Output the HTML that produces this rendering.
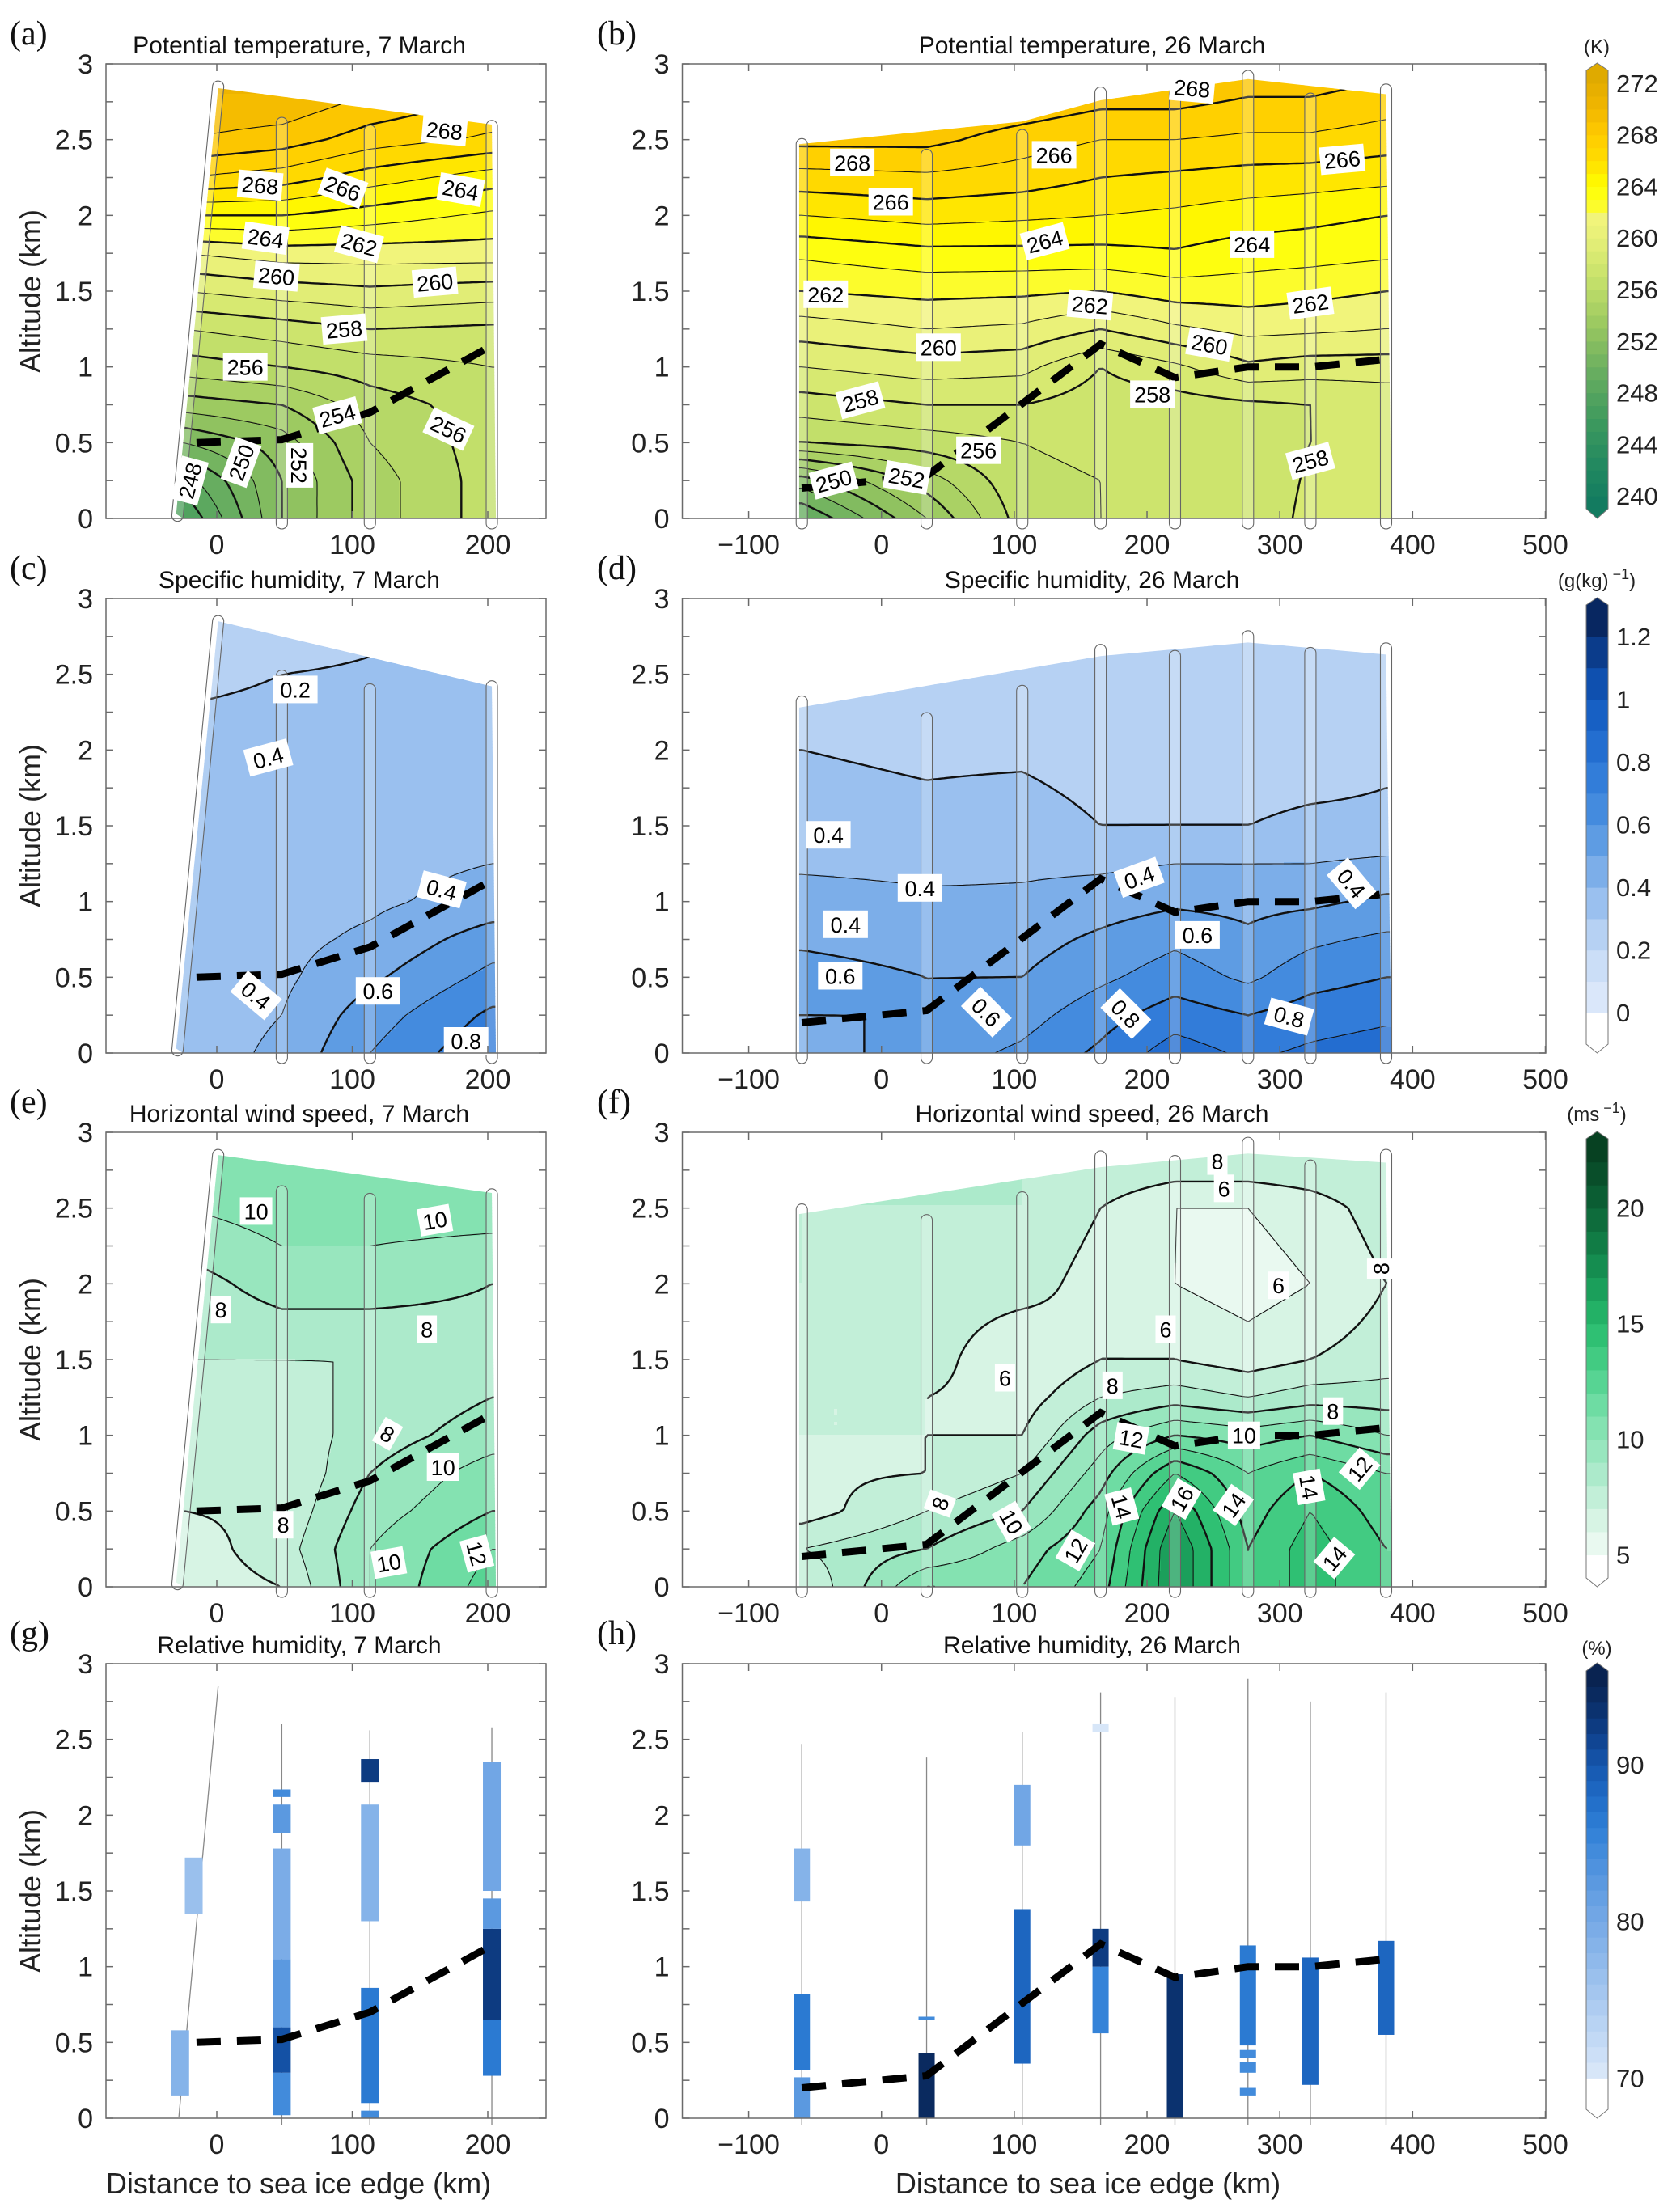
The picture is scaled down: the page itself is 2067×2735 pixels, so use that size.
<!DOCTYPE html>
<html><head><meta charset="utf-8">
<style>
html,body{margin:0;padding:0;background:#fff;}
svg{display:block;font-family:"Liberation Sans",Arial,sans-serif;}
.tick{font-size:34px;fill:#222;}
.ttl{font-size:30px;fill:#111;}
.plab{font-family:"Liberation Serif",serif;font-size:42px;fill:#111;}
.cbt{font-size:31px;fill:#222;}
.axl{font-size:36px;fill:#222;}
.clab{font-size:27px;fill:#000;}
</style></head>
<body>
<svg id="fig" width="2067" height="2735" viewBox="0 0 2067 2735" xmlns="http://www.w3.org/2000/svg">
<defs id="defs"></defs>
<rect x="0" y="0" width="2067" height="2735" fill="#fff"/>
</svg>
<script>
// ---------------- DATA ----------------
const thetaMarX=[-25,48,113,203];
const thetaMarZ=[0,0.25,0.5,0.75,1.0,1.25,1.5,1.75,2.0,2.25,2.5,2.8];
const thetaMarVals=[
 [247,248.5,251,253.5,255.5,257,259,261,264,267,269,270],
 [252,252,252.5,254,256,257.5,259.5,261.5,264,266.5,268.5,270],
 [254.5,254.5,255,255.5,256.5,258,259.8,261.5,263.5,265.5,267.5,269],
 [256.5,256.5,256.5,256.5,257,257.8,259.5,261.5,262.8,264.5,266.8,268]
];
const thetaLateX=[-60,34,106,165,221,276,323,380];
const thetaLateZ=[0,0.25,0.5,0.75,1.0,1.25,1.5,1.75,2.0,2.25,2.5,2.9];
const thetaLateVals=[
 [249,251.5,256,257.5,259,260.5,262,263.2,265,266.6,268.3,269.5],
 [253,254.5,256.5,258,259.5,261,262.3,263.7,265.4,266.8,268.3,269.5],
 [256.5,256.8,257,258,259.3,260.8,262.2,263.7,265.2,266.5,267.5,269.5],
 [257,257,257.2,257.5,258,260,262,263.7,265,266,267,269],
 [257.3,257.3,257.3,257.5,258.8,260.8,262.5,263.9,264.8,265.8,267,269],
 [257.5,257.5,257.6,257.8,259.8,261.3,262.5,263.5,264.5,265.6,266.8,268.5],
 [258.2,258.1,258,258,259.5,261.2,262.3,263.4,264.3,265.5,266.8,268.5],
 [258.3,258.3,258.2,258.3,259.5,261,262,263.2,264,265.3,266.5,268]
];
const qMarX=[-25,48,113,203];
const qMarZ=[0,0.25,0.5,0.75,1.0,1.5,2.0,2.5,2.85];
const qMarVals=[
 [0.35,0.35,0.36,0.36,0.36,0.35,0.33,0.28,0.18],
 [0.42,0.40,0.38,0.37,0.36,0.35,0.33,0.30,0.25],
 [0.60,0.55,0.48,0.42,0.38,0.36,0.34,0.31,0.28],
 [0.78,0.72,0.63,0.55,0.44,0.36,0.34,0.32,0.30]
];
const qLateX=[-60,34,106,165,221,276,323,380];
const qLateZ=[0,0.25,0.5,0.75,1.0,1.25,1.5,2.0,2.5,2.8];
const qLateVals=[
 [0.45,0.50,0.55,0.48,0.45,0.38,0.35,0.30,0.25,0.25],
 [0.55,0.50,0.50,0.45,0.42,0.37,0.33,0.28,0.25,0.25],
 [0.62,0.56,0.50,0.46,0.42,0.38,0.35,0.28,0.25,0.25],
 [0.72,0.66,0.58,0.52,0.45,0.38,0.30,0.25,0.25,0.25],
 [0.85,0.75,0.65,0.58,0.48,0.40,0.30,0.25,0.25,0.25],
 [0.78,0.70,0.58,0.52,0.47,0.40,0.30,0.25,0.25,0.25],
 [0.82,0.75,0.66,0.58,0.48,0.40,0.32,0.25,0.25,0.25],
 [0.85,0.78,0.70,0.62,0.52,0.42,0.32,0.28,0.25,0.25]
];
const windMarX=[-25,48,113,203];
const windMarZ=[0,0.25,0.5,0.75,1.0,1.5,2.0,2.5,2.85];
const windMarVals=[
 [6.5,6.5,7,7,7.5,8,8.5,10,10.5],
 [7,7.5,7.2,7,7.3,8,9.5,10.5,10.8],
 [10,10,9.5,9,8.5,8,9.5,10.5,10.8],
 [12.5,12,11,10.5,9.5,8.5,9,10.5,10.5]
];
const windLateX=[-60,34,106,165,221,276,323,380];
const windLateZ=[0,0.25,0.5,0.75,1.0,1.25,1.5,2.0,2.5,2.85];
const windLateVals=[
 [7,8,6.5,6.8,7,7,7.5,8,8,8],
 [11,9,8,7,7,7,7.5,7.5,8,8],
 [11,10.5,9,8,7,6.5,6,7.5,8,8],
 [12.5,12,11.5,10.5,9.5,8,7,6.5,7,8],
 [17,17,16,14,11,8.5,7,6,6,8],
 [13,13,12.5,12,10.5,8,6.5,5.5,6,8],
 [14.5,14.5,14,13,11,8.5,7,6,6.5,8],
 [13,13,12.5,12,10,8.5,7.5,7,7.5,8]
];
const rhMarDist=[-27,-17,48,48,48,48,48,48,113,113,113,113,203,203,203,203];
const rhMarBot=[0.15,1.35,0.02,0.3,0.6,1.05,1.88,2.12,0.0,0.1,1.3,2.22,0.28,0.65,1.25,1.5];
const rhMarTop=[0.58,1.72,0.3,0.6,1.05,1.78,2.07,2.17,0.05,0.86,2.07,2.37,0.65,1.25,1.45,2.35];
const rhMarVal=[78,76,84,90,82,79,82,84,84,86,78,92,86,92,82,80];
const rhLateDist=[-60,-60,-60,34,34,106,106,165,165,165,221,276,276,276,276,323,380];
const rhLateBot=[0.0,0.32,1.43,0.0,0.65,0.36,1.8,0.56,1.0,2.55,0.0,0.15,0.3,0.4,0.48,0.22,0.55];
const rhLateTop=[0.27,0.82,1.78,0.43,0.67,1.38,2.2,1.0,1.25,2.6,0.95,0.2,0.37,0.45,1.14,1.06,1.17];
const rhLateVal=[82,86,78,94,84,88,80,85,92,70,93,84,84,84,86,88,88];
const profA=[[-29,0.05,1,2.85],[48,0,48,2.61],[113,0,113,2.56],[203,0,203,2.59]];
const profC=[[-29,0.05,1,2.85],[48,0,48,2.49],[113,0,113,2.40],[203,0,203,2.42]];
const profE=[[-29,0.05,1,2.85],[48,0,48,2.61],[113,0,113,2.56],[203,0,203,2.59]];
const profG=[[-28,0.05,1,2.85],[48,0,48,2.6],[113,0,113,2.56],[203,0,203,2.58]];
const profDist=[-60,34,106,165,221,276,323,380];
const profTopB=[2.47,2.40,2.53,2.81,2.80,2.92,2.77,2.83];
const profTopD=[2.32,2.21,2.39,2.66,2.62,2.75,2.64,2.67];
const profTopF=[2.49,2.42,2.57,2.84,2.81,2.93,2.78,2.85];
const profTopH=[2.47,2.38,2.55,2.81,2.78,2.90,2.75,2.81];
const blMarX=[-15,48,113,203];
const blMarZ=[0.5,0.52,0.7,1.14];
const blLateX=[-60,34,165,221,276,323,380];
const blLateZ=[0.2,0.28,1.15,0.93,1.0,1.0,1.05];
const clipA=[[-30,0.03],[1,2.84],[203,2.6],[206,0],[-25,0]];
const clipC=[[-30,0.03],[1,2.85],[203,2.42],[206,0],[-25,0]];
const clipE=[[-30,0.03],[1,2.85],[203,2.6],[206,0],[-25,0]];
const clipB=[[-62,0],[-62,2.47],[106,2.62],[165,2.76],[276,2.9],[380,2.8],[384,0]];
const clipD=[[-62,0],[-62,2.28],[165,2.62],[276,2.71],[380,2.63],[384,0]];
const clipF=[[-62,0],[-62,2.46],[165,2.77],[276,2.86],[380,2.8],[384,0]];
const labA=[[32,2.2,"268",-5],[93,2.18,"266",-20],[180,2.17,"264",-10],[168,2.56,"268",-5],[36,1.85,"264",-8],[105,1.81,"262",-15],[44,1.6,"260",-5],[161,1.56,"260",5],[94,1.25,"258",5],[21,1.0,"256",0],[89,0.68,"254",15],[171,0.59,"256",-25],[18,0.37,"250",70],[61,0.35,"252",-90],[-20,0.25,"248",75]];
const labB=[[-22,2.35,"268",0],[130,2.4,"266",0],[347,2.37,"266",5],[7,2.09,"266",0],[123,1.83,"264",15],[279,1.81,"264",0],[-42,1.48,"262",0],[157,1.41,"262",-5],[323,1.42,"262",8],[43,1.13,"260",0],[247,1.15,"260",-10],[-16,0.78,"258",15],[204,0.82,"258",0],[323,0.38,"258",15],[73,0.45,"256",0],[19,0.27,"252",-10],[-36,0.25,"250",15],[234,2.84,"268",-5]];
const labC=[[58,2.4,"0.2",0],[38,1.95,"0.4",15],[166,1.08,"0.4",-15],[29,0.38,"0.4",-40],[119,0.41,"0.6",0],[184,0.08,"0.8",0]];
const labD=[[-40,1.44,"0.4",0],[29,1.09,"0.4",0],[-27,0.85,"0.4",0],[-31,0.51,"0.6",0],[194,1.16,"0.4",20],[354,1.12,"0.4",-50],[238,0.78,"0.6",0],[79,0.27,"0.6",-45],[184,0.26,"0.8",-45],[307,0.24,"0.8",-15]];
const labE=[[29,2.48,"10",0],[161,2.42,"10",10],[3,1.83,"8",0],[155,1.7,"8",0],[126,1.01,"8",-30],[167,0.79,"10",0],[49,0.41,"8",0],[127,0.16,"10",10],[192,0.22,"12",-75]];
const labF=[[253,2.81,"8",0],[258,2.63,"6",0],[299,1.99,"6",0],[214,1.70,"6",0],[93,1.38,"6",0],[376,2.1,"8",90],[174,1.33,"8",0],[340,1.16,"8",0],[273,1.0,"10",0],[188,0.98,"12",-10],[360,0.78,"12",50],[44,0.55,"8",70],[98,0.43,"10",-60],[181,0.53,"14",-75],[226,0.58,"16",60],[265,0.54,"14",55],[322,0.66,"14",-80],[146,0.24,"12",60],[341,0.19,"14",50]];
const thetaStops=[[238,"#0b7360"],[242,"#1f8760"],[246,"#3f9a5e"],[250,"#6db060"],[253,"#97c660"],[256,"#bcdc68"],[258,"#d2e76f"],[260,"#e6ef78"],[261.99,"#f4f67c"],[262,"#fbfb3a"],[264,"#ffff00"],[266,"#ffdd00"],[268,"#ffcb00"],[270,"#f2b700"],[274,"#d4a200"]];
const qStops=[[-0.1,"#ffffff"],[-0.001,"#ffffff"],[0,"#e2ecfb"],[0.2,"#c3d9f5"],[0.3,"#a9c9f1"],[0.4,"#8ab6ec"],[0.5,"#6ea6e6"],[0.6,"#4f92df"],[0.7,"#3a84dc"],[0.8,"#2a75d5"],[0.9,"#1c66cb"],[1.0,"#1259bd"],[1.1,"#0c46a0"],[1.2,"#0a3276"],[1.3,"#061c4c"]];
const windStops=[[4,"#ffffff"],[4.99,"#ffffff"],[5,"#f2fbf6"],[6,"#e0f6ea"],[7,"#cdf1de"],[8,"#b6ecd1"],[9,"#a2e8c4"],[10,"#8ee4b8"],[11,"#79dfaa"],[12,"#62d89b"],[13,"#4ccf8a"],[14,"#37c67a"],[15,"#27b96c"],[16,"#1ea860"],[17,"#179655"],[18,"#12844a"],[19,"#0f7440"],[20,"#0c6437"],[21,"#0a552e"],[23,"#063a1e"]];
const rhStops=[[68,"#ffffff"],[69.99,"#ffffff"],[70,"#dce9f9"],[72,"#c7dcf6"],[75,"#a9c9f0"],[78,"#8ab6ea"],[80,"#76a9e6"],[83,"#5596df"],[86,"#2f7fd6"],[88,"#1f6bc6"],[90,"#1657ae"],[92,"#0e3f8a"],[94,"#0a2d66"],[96,"#08204a"]];
const cbThetaTicks=[240,244,248,252,256,260,264,268,272];
const cbQTicks=[0,0.2,0.4,0.6,0.8,1,1.2];
const cbWindTicks=[5,10,15,20];
const cbRhTicks=[70,80,90];
const yTicks=[0,0.5,1,1.5,2,2.5,3];
const xTicksLeft=[0,100,200];
const xTicksRight=[-100,0,100,200,300,400,500];

// ---------------- HELPERS ----------------
const NS="http://www.w3.org/2000/svg";
const svg=document.getElementById("fig");
const defs=document.getElementById("defs");
const ROWTOP=[79,740,1400,2057];
const ROWBOT=[641,1302,1962,2619];
const PXKM_Z=187.33;
function mk(tag,attrs,parent){const e=document.createElementNS(NS,tag);for(const k in attrs)e.setAttribute(k,attrs[k]);(parent||svg).appendChild(e);return e;}
function xS(side,v){return side===0?268+v*1.675:843.5+(v+150)*1.6415;}
function xInv(side,px){return side===0?(px-268)/1.675:(px-843.5)/1.6415-150;}
function yS(row,z){return ROWBOT[row]-z*PXKM_Z;}
function zInv(row,py){return (ROWBOT[row]-py)/PXKM_Z;}
function hex2rgb(h){return [parseInt(h.slice(1,3),16),parseInt(h.slice(3,5),16),parseInt(h.slice(5,7),16)];}
function cmap(stops,v){
  if(v<=stops[0][0])return stops[0][1];
  if(v>=stops[stops.length-1][0])return stops[stops.length-1][1];
  for(let i=0;i<stops.length-1;i++){
    if(v<=stops[i+1][0]){const t=(v-stops[i][0])/(stops[i+1][0]-stops[i][0]);
      const a=hex2rgb(stops[i][1]),b=hex2rgb(stops[i+1][1]);
      return "rgb("+a.map((c,k)=>Math.round(c+(b[k]-c)*t)).join(",")+")";}
  }
}
function br(a,v){if(v<=a[0])return[0,0];if(v>=a[a.length-1])return[a.length-2,1];
  for(let i=0;i<a.length-1;i++)if(v<=a[i+1])return[i,(v-a[i])/(a[i+1]-a[i])];return[a.length-2,1];}
function interp(xs,zs,vals,x,z){const[i,tx]=br(xs,x),[j,tz]=br(zs,z);
  const a=vals[i][j],b=vals[i+1][j],c=vals[i][j+1],d=vals[i+1][j+1];
  return (a*(1-tx)+b*tx)*(1-tz)+(c*(1-tx)+d*tx)*tz;}
let clipN=0;

function drawField(side,row,xs,zs,vals,stops,vmin,step,clipPoly,lineMin,lineMax,lineStep,thickEvery,name){
  const pts=clipPoly.map(p=>[xS(side,p[0]),yS(row,p[1])]);
  const id="clp"+(clipN++);
  const cp=mk("clipPath",{id:id},defs);
  mk("polygon",{points:pts.map(p=>p.join(",")).join(" ")},cp);
  const g=mk("g",{"clip-path":"url(#"+id+")"});
  
  
  const xs0=Math.floor(Math.min(...pts.map(p=>p[0]))),xs1=Math.ceil(Math.max(...pts.map(p=>p[0])));
  const ys0=Math.floor(Math.min(...pts.map(p=>p[1]))),ys1=Math.ceil(Math.max(...pts.map(p=>p[1])));
  const S=4;const nx=Math.ceil((xs1-xs0)/S)+1,ny=Math.ceil((ys1-ys0)/S)+1;
  const V=[];
  for(let j=0;j<ny;j++){V.push([]);for(let i=0;i<nx;i++){V[j].push(interp(xs,zs,vals,xInv(side,xs0+i*S),zInv(row,ys0+j*S)));}}
  for(let j=0;j<ny-1;j++){
    let runStart=0,runBin=null;
    for(let i=0;i<=nx-1;i++){
      let bin=null;
      if(i<nx-1){const v=(V[j][i]+V[j][i+1]+V[j+1][i]+V[j+1][i+1])/4;bin=Math.floor((v-vmin)/step);}
      if(i===0){runBin=bin;runStart=0;continue;}
      if(bin!==runBin){
        const r=mk("rect",{x:xs0+runStart*S,y:ys0+j*S,width:(i-runStart)*S+0.6,height:S+0.6,fill:cmap(stops,vmin+(runBin+0.5)*step)},g);
        
        
        runBin=bin;runStart=i;
      }
    }
  }
  for(let L=lineMin;L<=lineMax+1e-9;L+=lineStep){
    let d="";
    for(let j=0;j<ny-1;j++)for(let i=0;i<nx-1;i++){
      const a=V[j][i],b=V[j][i+1],c=V[j+1][i+1],e=V[j+1][i];
      const P=[];const X=xs0+i*S,Y=ys0+j*S;
      if((a-L)*(b-L)<0)P.push([X+S*(L-a)/(b-a),Y]);
      if((b-L)*(c-L)<0)P.push([X+S,Y+S*(L-b)/(c-b)]);
      if((e-L)*(c-L)<0)P.push([X+S*(L-e)/(c-e),Y+S]);
      if((a-L)*(e-L)<0)P.push([X,Y+S*(L-a)/(e-a)]);
      for(let k=0;k+1<P.length;k+=2)d+="M"+P[k][0].toFixed(1)+" "+P[k][1].toFixed(1)+"L"+P[k+1][0].toFixed(1)+" "+P[k+1][1].toFixed(1);
    }
    if(d){const idx=Math.round((L-lineMin)/lineStep);const thick=(idx%thickEvery)===0;
      const p=mk("path",{d:d,stroke:"#111",fill:"none","stroke-width":thick?2.4:1.1,"stroke-linecap":"round"},g);
      
      }
  }
}
function drawTube(side,row,x0,z0,x1,z1,name){
  const ax=xS(side,x0),ay=yS(row,z0)+6,bx=xS(side,x1),by=yS(row,z1);
  const len=Math.hypot(bx-ax,by-ay),ang=Math.atan2(bx-ax,ay-by)*180/Math.PI;
  const r=mk("rect",{x:ax-7,y:ay-len-7,width:14,height:len+14,rx:7,fill:"rgba(255,255,255,0.22)",stroke:"#666","stroke-width":1.1,transform:"rotate("+ang.toFixed(2)+" "+ax+" "+ay+")"});
  
  
}
function drawDash(side,row,xs,zs,name){
  const p=mk("polyline",{points:xs.map((x,i)=>xS(side,x).toFixed(1)+","+yS(row,zs[i]).toFixed(1)).join(" "),fill:"none",stroke:"#000","stroke-width":9,"stroke-dasharray":"30 20"});
  
  
}
function drawLabels(side,row,labs){
  labs.forEach(l=>{
    const x=xS(side,l[0]),y=yS(row,l[1]);const w=l[2].length*15+10;
    const g=mk("g",{transform:"translate("+x.toFixed(1)+","+y.toFixed(1)+") rotate("+(-l[3])+")"});
    
    
    mk("rect",{x:-w/2,y:-17,width:w,height:34,fill:"#fff"},g);
    const t=mk("text",{x:0,y:10,"text-anchor":"middle",class:"clab"},g);
    t.textContent=l[2];
  });
}
function drawAxes(side,row,title,letter,xlab){
  const x0=side===0?131:843.5,x1=side===0?675:1911,y0=ROWTOP[row],y1=ROWBOT[row];
  const g=mk("g",{});
  
  
  const fr=mk("rect",{x:x0,y:y0,width:x1-x0,height:y1-y0,fill:"none",stroke:"#6a6a6a","stroke-width":1.5},g);
  
  
  for(let z=0;z<=3.001;z+=0.25){const y=yS(row,z);
    mk("line",{x1:x0,y1:y,x2:x0+9,y2:y,stroke:"#6a6a6a","stroke-width":1.5},g);
    mk("line",{x1:x1,y1:y,x2:x1-9,y2:y,stroke:"#6a6a6a","stroke-width":1.5},g);}
  yTicks.forEach(z=>{const t=mk("text",{x:x0-16,y:yS(row,z)+12,"text-anchor":"end",class:"tick"},g);
    
    
    t.textContent=String(z);});
  const xt=side===0?xTicksLeft:xTicksRight;
  xt.forEach(v=>{const x=xS(side,v);
    mk("line",{x1:x,y1:y0,x2:x,y2:y0+9,stroke:"#6a6a6a","stroke-width":1.5},g);
    mk("line",{x1:x,y1:y1,x2:x,y2:y1-9,stroke:"#6a6a6a","stroke-width":1.5},g);
    const t=mk("text",{x:x,y:y1+44,"text-anchor":"middle",class:"tick"},g);
    
    
    t.textContent=v<0?"\u2212"+(-v):String(v);});
  const tt=mk("text",{x:side===0?370:1350,y:y0-13,"text-anchor":"middle",class:"ttl"},g);
  
  
  tt.textContent=title;
  const pl=mk("text",{x:side===0?12:738,y:y0-24,class:"plab"},g);
  
  
  pl.textContent="("+letter+")";
  if(side===0){const yl=mk("text",{x:0,y:0,"text-anchor":"middle",class:"axl",transform:"translate(50,"+((y0+y1)/2)+") rotate(-90)"},g);
    
    
    yl.textContent="Altitude (km)";}
  if(xlab){const xl=mk("text",{x:side===0?369:1345,y:2712,"text-anchor":"middle",class:"axl"},g);
    
    
    xl.textContent="Distance to sea ice edge (km)";}
}
function drawCbar(row,stops,vmin,vmax,step,yTop,yBot,ticks,lowOutline,name){
  const x0=1961,x1=1988,triTop=ROWTOP[row]-1,triBot=ROWBOT[row];
  const g=mk("g",{});
  
  
  const k=(yBot-yTop)/(vmax-vmin);
  for(let v=vmin;v<vmax-1e-9;v+=step){
    const ya=yBot-(v+step-vmin)*k,yb=yBot-(v-vmin)*k;
    const r=mk("rect",{x:x0,y:ya,width:x1-x0,height:yb-ya+0.6,fill:cmap(stops,v+step/2)},g);
    
    
  }
  mk("polygon",{points:x0+","+yTop+" "+x1+","+yTop+" "+((x0+x1)/2)+","+triTop,fill:cmap(stops,vmax-step/2)},g);
  mk("polygon",{points:x0+","+yBot+" "+x1+","+yBot+" "+((x0+x1)/2)+","+triBot,fill:cmap(stops,vmin+step/2)},g);
  mk("polygon",{points:x0+","+yTop+" "+((x0+x1)/2)+","+triTop+" "+x1+","+yTop+" "+x1+","+yBot+" "+((x0+x1)/2)+","+triBot+" "+x0+","+yBot,fill:"none",stroke:"#777","stroke-width":1},g);
  ticks.forEach(v=>{const y=yBot-(v-vmin)*k;
    const t=mk("text",{x:1998,y:y+11,class:"cbt"},g);
    
    
    t.textContent=String(v);});
}
function drawRH(side,row,dist,bot,top,val,stops,barW){
  dist.forEach((d,i)=>{
    const x=xS(side,d),ya=yS(row,top[i]),yb=yS(row,bot[i]);
    const r=mk("rect",{x:x-barW/2,y:ya,width:barW,height:Math.max(3,yb-ya),fill:cmap(stops,Math.floor(val[i])+0.5)});
    
    
  });
}
function drawTrack(side,row,x0,z0,x1,z1){
  const l=mk("line",{x1:xS(side,x0),y1:yS(row,z0)+8,x2:xS(side,x1),y2:yS(row,z1),stroke:"#888","stroke-width":1.3});
  
  
}

// ---------------- BUILD ----------------
drawField(0,0,thetaMarX,thetaMarZ,thetaMarVals,thetaStops,238,1,clipA,240,272,1,2,"theta-7mar-field");
profA.forEach(p=>drawTube(0,0,p[0],p[1],p[2],p[3],"flight-profile"));
drawDash(0,0,blMarX,blMarZ,"bl-height-line");
drawLabels(0,0,labA);
drawAxes(0,0,"Potential temperature, 7 March","a",false);
drawField(1,0,thetaLateX,thetaLateZ,thetaLateVals,thetaStops,238,1,clipB,240,272,1,2,"theta-26mar-field");
profDist.forEach((d,i)=>drawTube(1,0,d,0,d,profTopB[i],"flight-profile"));
drawDash(1,0,blLateX,blLateZ,"bl-height-line");
drawLabels(1,0,labB);
drawAxes(1,0,"Potential temperature, 26 March","b",false);
drawCbar(0,thetaStops,239,273,1,87,629,cbThetaTicks,false,"colorbar-theta");
drawField(0,1,qMarX,qMarZ,qMarVals,qStops,-0.1,0.1,clipC,0.1,1.2,0.1,2,"q-7mar-field");
profC.forEach(p=>drawTube(0,1,p[0],p[1],p[2],p[3],"flight-profile"));
drawDash(0,1,blMarX,blMarZ,"bl-height-line");
drawLabels(0,1,labC);
drawAxes(0,1,"Specific humidity, 7 March","c",false);
drawField(1,1,qLateX,qLateZ,qLateVals,qStops,-0.1,0.1,clipD,0.1,1.2,0.1,2,"q-26mar-field");
profDist.forEach((d,i)=>drawTube(1,1,d,0,d,profTopD[i],"flight-profile"));
drawDash(1,1,blLateX,blLateZ,"bl-height-line");
drawLabels(1,1,labD);
drawAxes(1,1,"Specific humidity, 26 March","d",false);
drawCbar(1,qStops,-0.1,1.3,0.1,748,1291,cbQTicks,true,"colorbar-q");
drawField(0,2,windMarX,windMarZ,windMarVals,windStops,4,1,clipE,5,20,1,2,"wind-7mar-field");
profE.forEach(p=>drawTube(0,2,p[0],p[1],p[2],p[3],"flight-profile"));
drawDash(0,2,blMarX,blMarZ,"bl-height-line");
drawLabels(0,2,labE);
drawAxes(0,2,"Horizontal wind speed, 7 March","e",false);
drawField(1,2,windLateX,windLateZ,windLateVals,windStops,4,1,clipF,5,20,1,2,"wind-26mar-field");
profDist.forEach((d,i)=>drawTube(1,2,d,0,d,profTopF[i],"flight-profile"));
drawDash(1,2,blLateX,blLateZ,"bl-height-line");
drawLabels(1,2,labF);
drawAxes(1,2,"Horizontal wind speed, 26 March","f",false);
drawCbar(2,windStops,4,23,1,1408,1951,cbWindTicks,true,"colorbar-wind");
profG.forEach(p=>drawTrack(0,3,p[0],p[1],p[2],p[3]));
drawRH(0,3,rhMarDist,rhMarBot,rhMarTop,rhMarVal,rhStops,22);
drawDash(0,3,blMarX,blMarZ,"bl-height-line");
drawAxes(0,3,"Relative humidity, 7 March","g",true);
profDist.forEach((d,i)=>drawTrack(1,3,d,0,d,profTopH[i]));
drawRH(1,3,rhLateDist,rhLateBot,rhLateTop,rhLateVal,rhStops,20);
drawDash(1,3,blLateX,blLateZ,"bl-height-line");
drawAxes(1,3,"Relative humidity, 26 March","h",true);
drawCbar(3,rhStops,68,96,1,2066,2608,cbRhTicks,true,"colorbar-rh");
[["(K)",66],["(g(kg)",726],["(ms",1386],["(%)",2046]].forEach((u,i)=>{
  const t=mk("text",{x:1974,y:u[1],"text-anchor":"middle","font-size":"24",fill:"#222"});
  
  
  t.textContent=u[0];
  if(i===1||i===2){const s=mk("tspan",{dy:"-10","font-size":"18"},t);s.textContent=" \u22121";const s2=mk("tspan",{dy:"10"},t);s2.textContent=")";}
});
</script>
</body></html>
